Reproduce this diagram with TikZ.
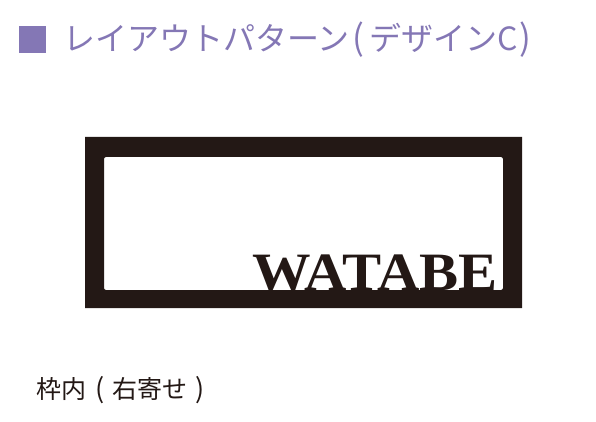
\documentclass[tikz,border=0pt]{standalone}
\usepackage{fontspec}
\setmainfont{Liberation Serif}
\newfontfamily\jpfont{Noto Sans CJK JP}
\definecolor{titlepurple}{HTML}{8477B5}
\definecolor{inkblack}{HTML}{231815}
\newcommand{\lpar}{\hspace{3pt}(\hspace{5pt}}
\newcommand{\rpar}{\hspace{2pt})}
\newcommand{\clpar}{\hspace{9pt}(\hspace{8pt}}
\newcommand{\crpar}{\hspace{8pt})}
\begin{document}
\begin{tikzpicture}[x=1pt,y=-1pt,
  titletext/.style={inner sep=0pt,anchor=west,text=titlepurple,font=\jpfont\fontsize{32}{32}\selectfont},
  captiontext/.style={inner sep=0pt,anchor=west,text=inkblack,font=\jpfont\fontsize{25}{25}\selectfont},
  nametext/.style={inner sep=0pt,anchor=base west,text=inkblack,font=\bfseries\fontsize{54}{54}\selectfont}]
\useasboundingbox (0,0) rectangle (596,422);
% title marker and text
\fill[titlepurple] (19,26) rectangle (46,53);
\node[titletext] (title) at (63,40) {レイアウトパターン{\fontsize{35}{35}\selectfont\lpar}デザインC{\fontsize{35}{35}\selectfont\rpar}};
% frame
\fill[inkblack,even odd rule] (85,137) rectangle (522,308)
  [rounded corners=2pt] (104,157) rectangle (503,290);
\node[nametext] (name) at (252,290.5) {\scalebox{1.085}[1]{WATABE}};
% caption
\node[captiontext] (caption) at (36,390) {枠内{\fontsize{27}{27}\selectfont\clpar}右寄せ{\fontsize{27}{27}\selectfont\crpar}};
\end{tikzpicture}
\end{document}
